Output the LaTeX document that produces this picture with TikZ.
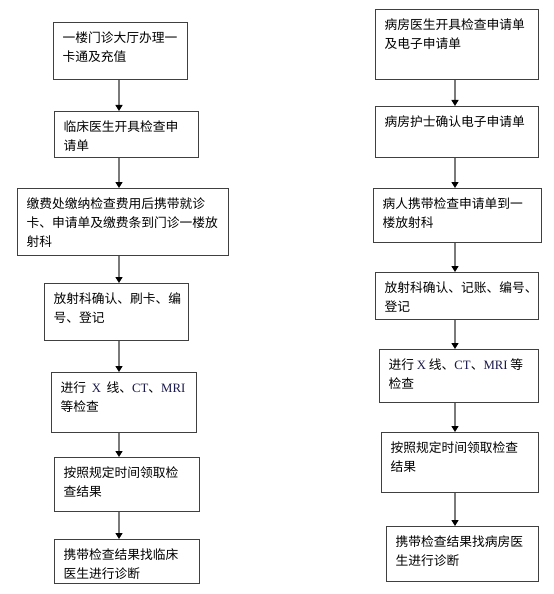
\documentclass[tikz,border=0pt]{standalone}
\usepackage{fontspec}
\setmainfont{Noto Sans CJK SC}
\newfontfamily\latfont{Liberation Serif}
\usetikzlibrary{arrows.meta}
\definecolor{latblue}{rgb}{0.1,0.1,0.3}
\definecolor{boxline}{gray}{0.25}
\definecolor{arrline}{gray}{0.48}
\newcommand{\lt}[1]{\textcolor{latblue}{\latfont #1}}
\tikzset{
  flow/.style={draw=boxline, line width=1.1bp, rectangle, inner xsep=9bp, inner ysep=8bp, anchor=north west, font=\fontsize{12.8}{19}\selectfont},
  arr/.style={draw=arrline, line width=1.4bp, -{Triangle[length=6bp,width=7bp,color=black]}}
}
\newcommand{\fbx}[6]{\node[flow] (#1) at (#2,#3) {\parbox[t][\dimexpr #5bp-16bp][t]{\dimexpr #4bp-18bp}{\rule{0pt}{12bp}#6}};}
\begin{document}
\begin{tikzpicture}[x=1bp,y=-1bp]
\path[use as bounding box, fill=white] (0,0) rectangle (554,594);
\coordinate (colL) at (119,0);
\coordinate (colR) at (455,0);
% left column
\fbx{L1}{53}{22}{134}{57}{一楼门诊大厅办理一\\卡通及充值}
\fbx{L2}{54}{111}{144}{46}{临床医生开具检查申\\请单}
\fbx{L3}{17}{188}{211}{67}{缴费处缴纳检查费用后携带就诊\\卡、申请单及缴费条到门诊一楼放\\射科}
\fbx{L4}{44}{283}{144}{57}{放射科确认、刷卡、编\\号、登记}
\fbx{L5}{51}{372}{145}{60}{进行\ \ \lt{X}\ \ 线、\lt{CT}、\lt{MRI}\\等检查}
\fbx{L6}{54}{457}{145}{54}{按照规定时间领取检\\查结果}
\fbx{L7}{54}{539}{145}{44}{携带检查结果找临床\\医生进行诊断}
% right column
\fbx{R1}{375}{9}{163}{70}{病房医生开具检查申请单\\及电子申请单}
\fbx{R2}{375}{106}{163}{51}{病房护士确认电子申请单}
\fbx{R3}{373}{188}{168}{54}{病人携带检查申请单到一\\楼放射科}
\fbx{R4}{375}{272}{163}{47}{放射科确认、记账、编号、\\登记}
\fbx{R5}{379}{349}{159}{53}{进行 \lt{X} 线、\lt{CT}、\lt{MRI} 等\\检查}
\fbx{R6}{381}{432}{157}{60}{按照规定时间领取检查\\结果}
\fbx{R7}{386}{526}{152}{55}{携带检查结果找病房医\\生进行诊断}
% arrows
\foreach \a/\b in {L1/L2,L2/L3,L3/L4,L4/L5,L5/L6,L6/L7}
  \draw[arr] (\a.south -| colL) -- (\b.north -| colL);
\foreach \a/\b in {R1/R2,R2/R3,R3/R4,R4/R5,R5/R6,R6/R7}
  \draw[arr] (\a.south -| colR) -- (\b.north -| colR);
\end{tikzpicture}
\end{document}
